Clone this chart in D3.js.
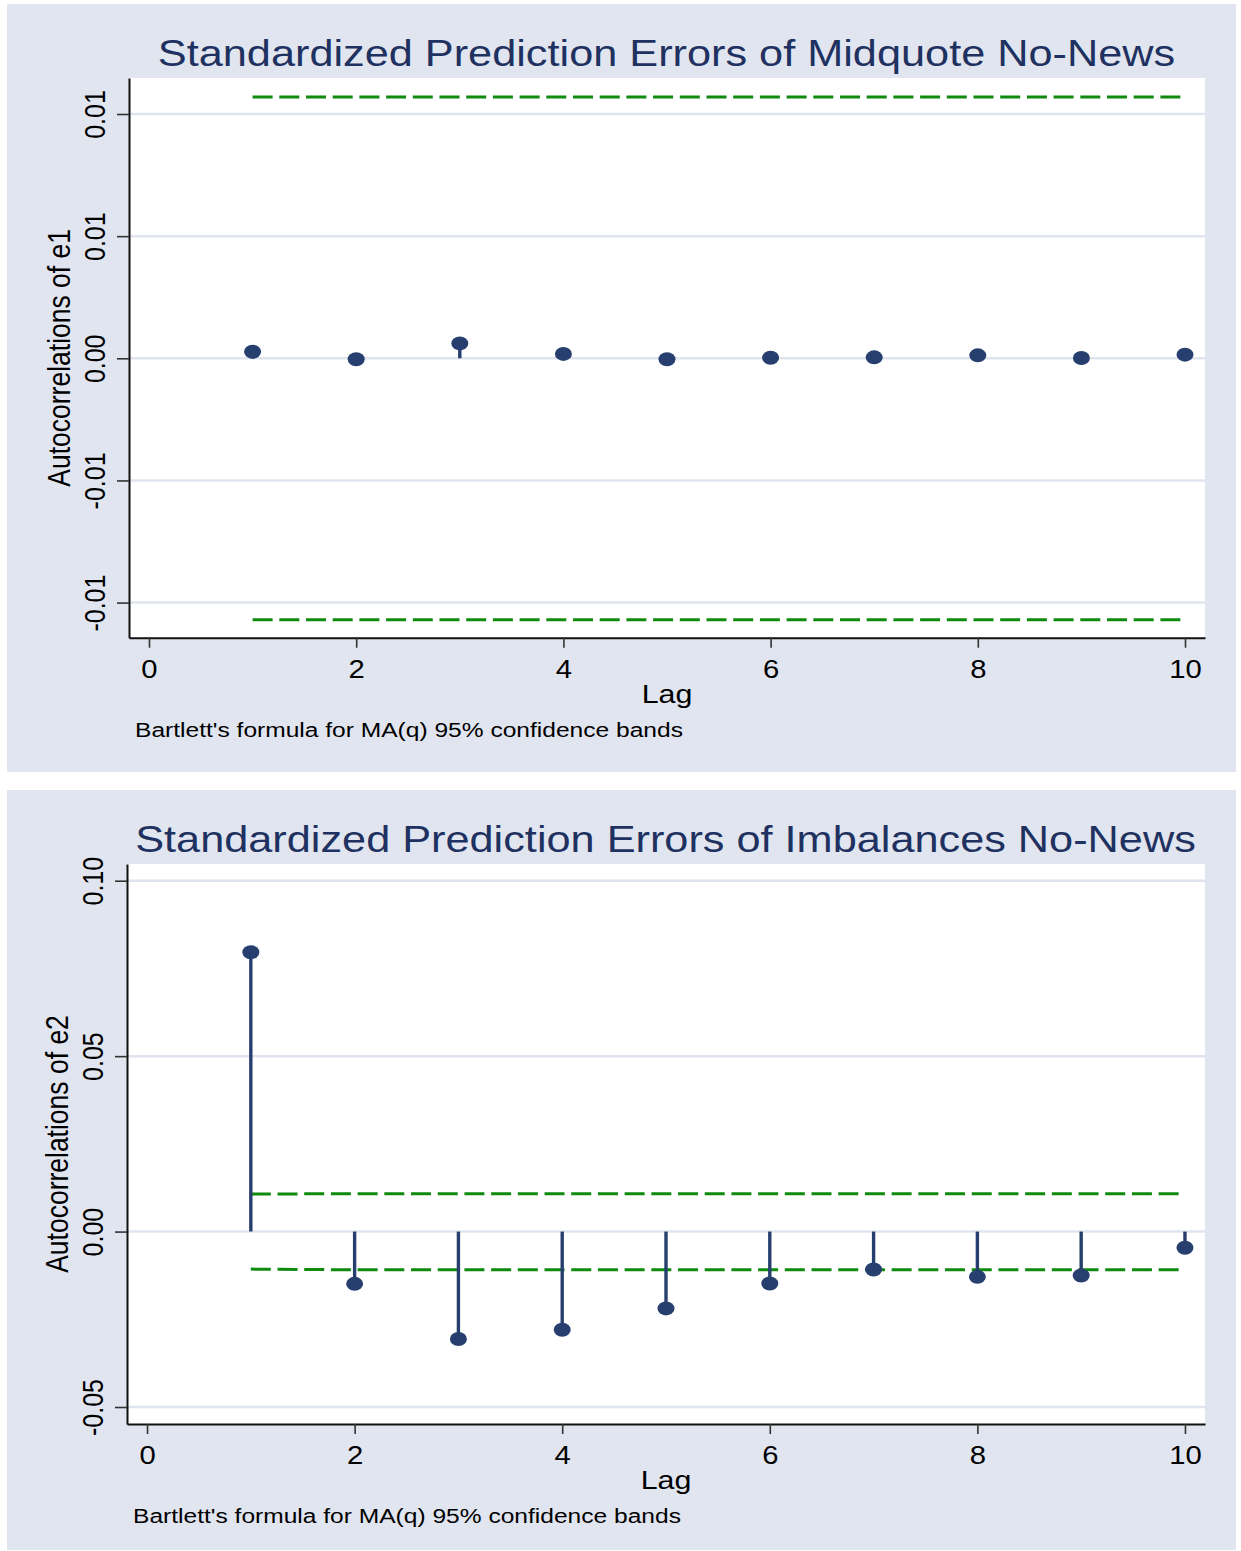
<!DOCTYPE html>
<html>
<head>
<meta charset="utf-8">
<script src="https://cdn.jsdelivr.net/npm/d3@7"></script>
<style>
  body { margin: 0; background: #fff; }
  svg { display: block; }
</style>
</head>
<body>
<div id="chart"></div>
<script>
// values
const lags = [1, 2, 3, 4, 5, 6, 7, 8, 9, 10];
const xTickValues = [0, 2, 4, 6, 8, 10];

const midquoteAC = [0.00027, -0.00004, 0.00061, 0.00018, -0.00004, 0.00002, 0.00004, 0.00012, 0.00001, 0.00015];
const midquoteUpper = [0.0107, 0.0107, 0.0107, 0.0107, 0.0107, 0.0107, 0.0107, 0.0107, 0.0107, 0.0107];
const midquoteLower = [-0.0107, -0.0107, -0.0107, -0.0107, -0.0107, -0.0107, -0.0107, -0.0107, -0.0107, -0.0107];
const midquoteYTicks = [0.01, 0.005, 0, -0.005, -0.01];
const midquoteYLabels = ['0.01', '0.01', '0.00', '-0.01', '-0.01'];

const imbalAC = [0.0796, -0.0149, -0.0306, -0.0280, -0.0219, -0.0148, -0.0108, -0.0129, -0.0125, -0.0046];
const imbalUpper = [0.0107, 0.0108, 0.0108, 0.0108, 0.0108, 0.0108, 0.0108, 0.0108, 0.0108, 0.0108];
const imbalLower = [-0.0107, -0.0109, -0.0109, -0.0109, -0.0109, -0.0109, -0.0109, -0.0109, -0.0109, -0.0109];
const imbalYTicks = [0.10, 0.05, 0, -0.05];
const imbalYLabels = ['0.10', '0.05', '0.00', '-0.05'];

const note = "Bartlett's formula for MA(q) 95% confidence bands";

(function() {
  const width = 1241;
  const height = 1551;
  const SX = 1.17; // the original graph is stretched sideways
  const font = '"Liberation Sans", Arial, Helvetica, sans-serif';
  const colors = {
    bg: '#e0e5ef',
    grid: '#dfe4ee',
    navy: '#263f6e',
    title: '#1f3160',
    green: '#0f8a0f'
  };

  const svg = d3.select('#chart').append('svg')
    .attr('width', width)
    .attr('height', height);

  const drawPanel = cfg => {
    const p = cfg.plot;
    const g = svg.append('g');

    g.append('rect')
      .attr('x', cfg.box.x)
      .attr('y', cfg.box.y)
      .attr('width', cfg.box.w)
      .attr('height', cfg.box.h)
      .attr('fill', colors.bg);
    g.append('rect')
      .attr('x', p.left)
      .attr('y', p.top)
      .attr('width', p.right - p.left)
      .attr('height', p.bottom - p.top)
      .attr('fill', '#fff');

    const xScale = d3.scaleLinear()
      .domain([-0.193, 10.193])
      .range([p.left, p.right]);
    const yScale = d3.scaleLinear()
      .domain(cfg.yDomain)
      .range([p.bottom, p.top]);

    // grid lines
    g.append('g')
      .selectAll('line')
      .data(cfg.yTicks)
      .join('line')
      .attr('x1', p.left)
      .attr('x2', p.right)
      .attr('y1', d => yScale(d))
      .attr('y2', d => yScale(d))
      .attr('stroke', colors.grid)
      .attr('stroke-width', 2.5);

    // confidence bands
    const bandLine = vals => d3.line()
      .x((d, i) => xScale(lags[i]))
      .y(d => yScale(d))(vals);
    [cfg.upper, cfg.lower].forEach(vals => {
      g.append('path')
        .attr('d', bandLine(vals))
        .attr('fill', 'none')
        .attr('stroke', colors.green)
        .attr('stroke-width', 3)
        .attr('stroke-dasharray', '20 6.7');
    });

    // spikes + markers
    g.append('g')
      .selectAll('line')
      .data(cfg.values)
      .join('line')
      .attr('x1', (d, i) => xScale(lags[i]))
      .attr('x2', (d, i) => xScale(lags[i]))
      .attr('y1', yScale(0))
      .attr('y2', d => yScale(d))
      .attr('stroke', colors.navy)
      .attr('stroke-width', 3.4);
    g.append('g')
      .selectAll('ellipse')
      .data(cfg.values)
      .join('ellipse')
      .attr('cx', (d, i) => xScale(lags[i]))
      .attr('cy', d => yScale(d))
      .attr('rx', 8.5)
      .attr('ry', 7)
      .attr('fill', colors.navy);

    // axes
    const yAxis = d3.axisLeft(yScale)
      .tickValues(cfg.yTicks)
      .tickFormat((d, i) => cfg.yLabels[i])
      .tickSize(12)
      .tickSizeOuter(0);
    const xAxis = d3.axisBottom(xScale)
      .tickValues(xTickValues)
      .tickFormat(d3.format('d'))
      .tickSize(10)
      .tickSizeOuter(0);

    const yG = g.append('g')
      .attr('transform', `translate(${p.left}, 0)`)
      .call(yAxis);
    const xG = g.append('g')
      .attr('transform', `translate(0, ${p.bottom})`)
      .call(xAxis);

    [yG, xG].forEach(a => {
      a.select('.domain').attr('stroke', '#111').attr('stroke-width', 2);
      a.selectAll('.tick line').attr('stroke', '#333').attr('stroke-width', 1.6);
      a.selectAll('text')
        .attr('font-family', font)
        .attr('font-size', 25)
        .attr('fill', '#000')
        .attr('text-anchor', 'middle')
        .attr('x', null)
        .attr('y', null)
        .attr('dy', null);
    });
    yG.selectAll('text')
      .attr('transform', `translate(-24, 0) scale(${SX}, 1) rotate(-90)`);
    xG.selectAll('text')
      .attr('transform', `translate(0, 40) scale(${SX}, 1)`);

    const midX = (p.left + p.right) / 2;

    g.append('text')
      .attr('transform', `translate(${midX - 0.5}, ${p.top - 12}) scale(${SX}, 1)`)
      .attr('text-anchor', 'middle')
      .attr('font-family', font)
      .attr('font-size', 37)
      .attr('fill', colors.title)
      .text(cfg.title);

    g.append('text')
      .attr('transform', `translate(${midX}, ${p.bottom + 65}) scale(${SX}, 1)`)
      .attr('text-anchor', 'middle')
      .attr('font-family', font)
      .attr('font-size', 26)
      .attr('fill', '#000')
      .text('Lag');

    g.append('text')
      .attr('transform', `translate(${p.left - 59}, ${(p.top + p.bottom) / 2}) scale(${SX}, 1) rotate(-90)`)
      .attr('text-anchor', 'middle')
      .attr('font-family', font)
      .attr('font-size', 26.5)
      .attr('fill', '#000')
      .text(cfg.yTitle);

    g.append('text')
      .attr('transform', `translate(${p.left + 6}, ${p.bottom + 99}) scale(${SX}, 1)`)
      .attr('font-family', font)
      .attr('font-size', 21)
      .attr('fill', '#000')
      .text(note);
  };

  drawPanel({
    box: {x: 7, y: 4, w: 1229, h: 768},
    plot: {left: 129, top: 78, right: 1205, bottom: 637.7},
    yDomain: [-0.011437, 0.011474],
    yTicks: midquoteYTicks,
    yLabels: midquoteYLabels,
    values: midquoteAC,
    upper: midquoteUpper,
    lower: midquoteLower,
    title: 'Standardized Prediction Errors of Midquote No-News',
    yTitle: 'Autocorrelations of e1'
  });

  drawPanel({
    box: {x: 7, y: 790, w: 1229, h: 760},
    plot: {left: 127, top: 864, right: 1205, bottom: 1424},
    yDomain: [-0.05484, 0.10476],
    yTicks: imbalYTicks,
    yLabels: imbalYLabels,
    values: imbalAC,
    upper: imbalUpper,
    lower: imbalLower,
    title: 'Standardized Prediction Errors of Imbalances No-News',
    yTitle: 'Autocorrelations of e2'
  });
})();
</script>
</body>
</html>
